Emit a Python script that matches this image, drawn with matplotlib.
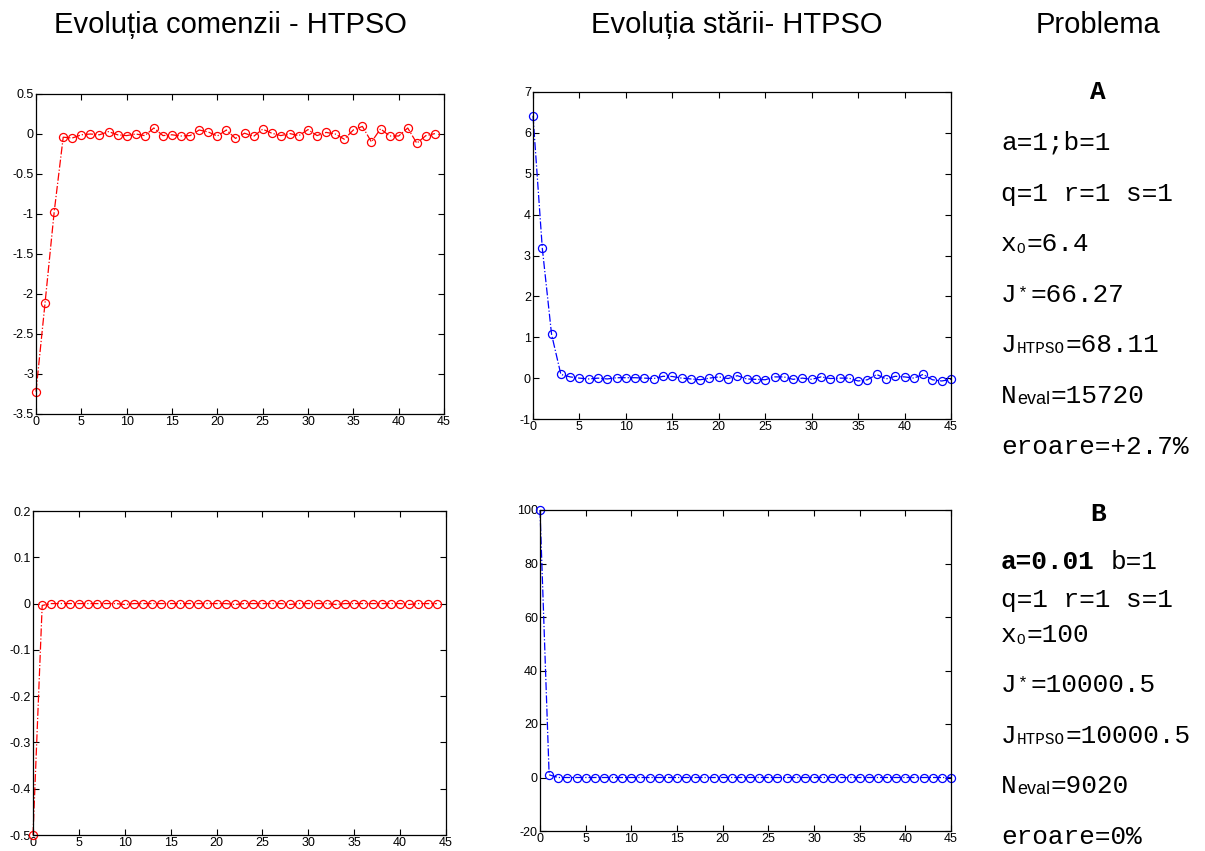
import numpy as np
import matplotlib
matplotlib.use('Agg')
import matplotlib.pyplot as plt
from matplotlib.ticker import FuncFormatter

# problema A - comanda u(k) si starea x(k)
u_A = [-3.22, -2.11, -0.98, -0.04, -0.05, -0.01, 0.00, -0.01, 0.03, -0.01,
       -0.02, 0.00, -0.02, 0.075, -0.02, -0.01, -0.025, -0.02, 0.05, 0.025,
       -0.025, 0.05, -0.055, 0.01, -0.03, 0.06, 0.01, -0.02, 0.005, -0.02,
       0.055, -0.02, 0.02, 0.00, -0.065, 0.05, 0.095, -0.10, 0.065, -0.025,
       -0.025, 0.075, -0.115, -0.02, 0.005]
x_A = [6.42, 3.18, 1.07, 0.09, 0.03, 0.00, -0.02, 0.00, -0.02, 0.01,
       0.01, 0.01, 0.00, -0.01, 0.045, 0.04, 0.00, -0.02, -0.04, 0.00,
       0.03, -0.01, 0.06, -0.02, -0.03, -0.04, 0.03, 0.03, -0.03, 0.00,
       -0.03, 0.03, -0.01, 0.00, 0.00, -0.07, -0.04, 0.09, -0.02, 0.045,
       0.03, 0.00, 0.09, -0.04, -0.07, -0.03]

# problema B
u_B = [-0.5, -0.004, 0, 0, 0, 0, 0, 0, 0, 0,
       -0.002, 0, 0, 0, 0, 0, 0, 0, 0, 0,
       0, 0, -0.002, 0, 0, 0, 0, 0, -0.002, 0,
       0, 0, 0, -0.002, 0, 0, 0, 0, 0, 0,
       0, -0.002, 0, 0, 0]
x_B = [100, 1.0, 0, 0, 0, 0, 0, 0, 0, 0,
       0, 0, 0, 0, 0, 0, 0, 0, 0, 0,
       0, 0, 0, 0, 0, 0, 0, 0, 0, 0,
       0, 0, 0, 0, 0, 0, 0, 0, 0, 0,
       0, 0, 0, 0, 0, 0]

yticks_uA = [-3.5, -3, -2.5, -2, -1.5, -1, -0.5, 0, 0.5]
yticks_xA = [-1, 0, 1, 2, 3, 4, 5, 6, 7]
yticks_uB = [-0.5, -0.4, -0.3, -0.2, -0.1, 0, 0.1, 0.2]
yticks_xB = [-20, 0, 20, 40, 60, 80, 100]
xticks = [0, 5, 10, 15, 20, 25, 30, 35, 40, 45]

titluri = ['Evoluția comenzii - HTPSO', 'Evoluția stării- HTPSO', 'Problema']

W, H = 1205, 851
fig = plt.figure(figsize=(W / 100, H / 100), dpi=100)

mono = 'Liberation Mono'
sans = 'Liberation Sans'


def box(l, t, r, b):
    # pixeli -> fractie figura
    return [l / W, 1 - b / H, (r - l) / W, (b - t) / H]


def grafic(rect, y, culoare, yticks):
    ax = fig.add_axes(rect)
    k = np.arange(len(y))
    ax.plot(k, y, color=culoare, linestyle='-.', marker='o', mfc='none',
            ms=5.8, lw=0.9, mew=0.9, clip_on=False)
    ax.set_xlim(0, 45)
    ax.set_ylim(yticks[0], yticks[-1])
    ax.set_xticks(xticks)
    ax.set_yticks(yticks)
    ax.yaxis.set_major_formatter(FuncFormatter(lambda v, p: '%g' % v))
    ax.tick_params(direction='in', top=True, right=True, length=4, width=0.8,
                   labelsize=9, pad=1.5)
    for lab in ax.get_xticklabels() + ax.get_yticklabels():
        lab.set_family(sans)
    for s in ax.spines.values():
        s.set_linewidth(0.9)
    return ax


grafic(box(36, 94, 444, 414), u_A, 'red', yticks_uA)
grafic(box(533, 92, 951, 419), x_A, 'blue', yticks_xA)
grafic(box(33, 511, 446, 835), u_B, 'red', yticks_uB)
grafic(box(540, 510, 951, 831), x_B, 'blue', yticks_xB)

# titluri coloane
for cx, t in zip([230, 737, 1098], titluri):
    fig.text(cx / W, 1 - 33 / H, t, fontsize=21, family=sans, ha='center', va='baseline')


def put(x, y, s, size=18.8, family=mono, weight='normal', ha='left'):
    fig.text(x / W, 1 - y / H, s, fontsize=size, family=family,
             fontweight=weight, ha=ha, va='baseline')


x0 = 1001
ch = 0.6 * 18.8 / 0.72   # latime caracter mono in pixeli


def jstar(y, rest):
    put(x0, y, 'J')
    put(x0 + ch + 1, y - 5, '*', 12)
    put(x0 + 2 * ch - 2, y, rest)


def jhtpso(y, rest):
    put(x0, y, 'J')
    put(x0 + ch, y + 1, 'HTPSO', 11.5)
    put(x0 + ch + 5 * 0.6 * 11.5 / 0.72 + 1, y, rest)


def neval(y, rest):
    put(x0, y, 'N')
    put(x0 + ch + 1, y + 1, 'eval', 13, sans)
    put(x0 + 50, y, rest)


def xzero(y, rest):
    put(x0, y, 'x')
    put(x0 + ch, y + 2, '0', 11, sans)
    put(x0 + 25, y, rest)


# bloc A
put(1098, 99, 'A', weight='bold', ha='center')
put(x0, 150, 'a=1;b=1')
put(x0, 201, 'q=1 r=1 s=1')
xzero(251, '=6.4')
jstar(302, '=66.27')
jhtpso(352, '=68.11')
neval(403, '=15720')
put(x0, 454, 'eroare=+2.7%')

# bloc B
put(1098, 521, 'B', weight='bold', ha='center')
put(x0, 569, 'a=0.01', weight='bold')
put(x0 + 7 * ch, 569, 'b=1')
put(x0, 607, 'q=1 r=1 s=1')
xzero(642, '=100')
jstar(692, '=10000.5')
jhtpso(743, '=10000.5')
neval(793, '=9020')
put(x0, 844, 'eroare=0%')

fig.savefig('out.png', dpi=100)
